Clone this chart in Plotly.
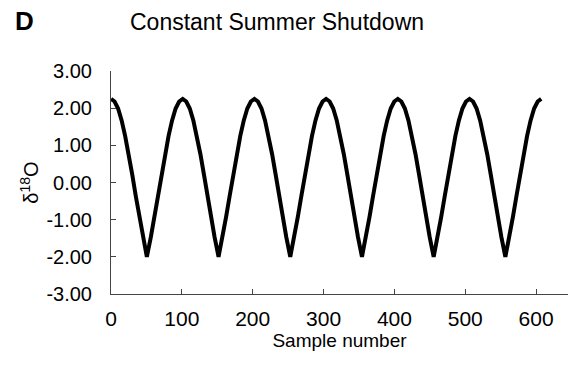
import plotly.graph_objects as go

# Sample numbers and delta-18O values
sample = [
    0, 5, 10, 15, 20, 25, 30, 35, 40, 45, 50.6, 56.2, 61.2, 66.2, 71.2, 76.2, 81.2, 86.2, 91.2, 96.2,
    101.2, 106.2, 111.2, 116.2, 121.2, 126.2, 131.2, 136.2, 141.2, 146.2, 151.8, 157.4, 162.4, 167.4, 172.4, 177.4, 182.4, 187.4, 192.4, 197.4,
    202.4, 207.4, 212.4, 217.4, 222.4, 227.4, 232.4, 237.4, 242.4, 247.4, 253.0, 258.6, 263.6, 268.6, 273.6, 278.6, 283.6, 288.6, 293.6, 298.6,
    303.6, 308.6, 313.6, 318.6, 323.6, 328.6, 333.6, 338.6, 343.6, 348.6, 354.2, 359.8, 364.8, 369.8, 374.8, 379.8, 384.8, 389.8, 394.8, 399.8,
    404.8, 409.8, 414.8, 419.8, 424.8, 429.8, 434.8, 439.8, 444.8, 449.8, 455.4, 461.0, 466.0, 471.0, 476.0, 481.0, 486.0, 491.0, 496.0, 501.0,
    506.0, 511.0, 516.0, 521.0, 526.0, 531.0, 536.0, 541.0, 546.0, 551.0, 556.6, 562.2, 567.2, 572.2, 577.2, 582.2, 587.2, 592.2, 597.2, 602.2,
    607.2,
]
delta18O = [
    2.25, 2.18, 1.99, 1.67, 1.25, 0.76, 0.21, -0.37, -0.93, -1.47, -2.00, -1.47, -0.93, -0.37, 0.21, 0.76, 1.25, 1.67, 1.99, 2.18,
    2.25, 2.18, 1.99, 1.67, 1.25, 0.76, 0.21, -0.37, -0.93, -1.47, -2.00, -1.47, -0.93, -0.37, 0.21, 0.76, 1.25, 1.67, 1.99, 2.18,
    2.25, 2.18, 1.99, 1.67, 1.25, 0.76, 0.21, -0.37, -0.93, -1.47, -2.00, -1.47, -0.93, -0.37, 0.21, 0.76, 1.25, 1.67, 1.99, 2.18,
    2.25, 2.18, 1.99, 1.67, 1.25, 0.76, 0.21, -0.37, -0.93, -1.47, -2.00, -1.47, -0.93, -0.37, 0.21, 0.76, 1.25, 1.67, 1.99, 2.18,
    2.25, 2.18, 1.99, 1.67, 1.25, 0.76, 0.21, -0.37, -0.93, -1.47, -2.00, -1.47, -0.93, -0.37, 0.21, 0.76, 1.25, 1.67, 1.99, 2.18,
    2.25, 2.18, 1.99, 1.67, 1.25, 0.76, 0.21, -0.37, -0.93, -1.47, -2.00, -1.47, -0.93, -0.37, 0.21, 0.76, 1.25, 1.67, 1.99, 2.18,
    2.25,
]

x_ticks = [0, 100, 200, 300, 400, 500, 600]
y_ticks = [3, 2, 1, 0, -1, -2, -3]
y_tick_labels = ["3.00", "2.00", "1.00", "0.00", "-1.00", "-2.00", "-3.00"]

FONT = "Arial, Liberation Sans, sans-serif"

fig = go.Figure(
    go.Scatter(
        x=sample,
        y=delta18O,
        mode="lines",
        line=dict(color="black", width=4),
        hoverinfo="skip",
    )
)

fig.update_layout(
    width=569,
    height=373,
    margin=dict(l=111, r=1, t=71, b=79),
    paper_bgcolor="white",
    plot_bgcolor="white",
    showlegend=False,
    font=dict(family=FONT, color="black"),
    annotations=[
        dict(text="<b>D</b>", x=13, y=21, xref="paper", yref="paper",
             xanchor="left", yanchor="middle", showarrow=False,
             font=dict(size=26, family=FONT, color="black")),
        dict(text="Constant Summer Shutdown", x=277, y=22, xref="paper", yref="paper",
             xanchor="center", yanchor="middle", showarrow=False,
             font=dict(size=23, family=FONT, color="black")),
    ],
)

# convert annotation pixel positions to paper coords
pw = 569 - 111 - 1
ph = 373 - 71 - 79
for a in fig.layout.annotations:
    a.x = (a.x - 111) / pw
    a.y = (373 - 79 - a.y) / ph

fig.update_xaxes(
    range=[0, 645],
    tickvals=x_ticks,
    ticks="inside",
    ticklen=5,
    tickcolor="#444",
    showline=True,
    linecolor="#444",
    linewidth=1,
    showgrid=False,
    zeroline=False,
    tickfont=dict(size=21, family=FONT, color="black"),
    ticklabelstandoff=6,
    title=dict(text="Sample number", font=dict(size=19, family=FONT, color="black"), standoff=1),
)
fig.update_yaxes(
    range=[-3, 3],
    tickvals=y_ticks,
    ticktext=y_tick_labels,
    ticks="inside",
    ticklen=5,
    tickcolor="#444",
    showline=True,
    linecolor="#444",
    linewidth=1,
    showgrid=False,
    zeroline=False,
    tickfont=dict(size=20, family=FONT, color="black"),
    ticklabelstandoff=14,
    title=dict(text="δ<sup>18</sup>O", font=dict(size=20, family=FONT, color="black"), standoff=2),
)

fig.write_html("out.html")
